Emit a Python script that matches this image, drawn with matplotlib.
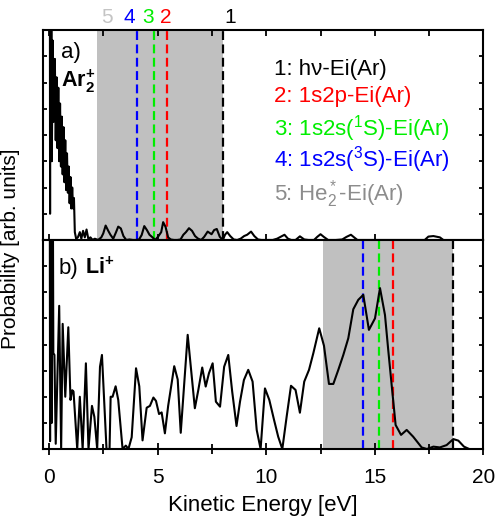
import numpy as np
import matplotlib
matplotlib.use("Agg")
import matplotlib.pyplot as plt
from matplotlib.ticker import MultipleLocator, NullFormatter
import matplotlib.transforms as mtransforms

plt.rcParams['font.family'] = ['Liberation Sans', 'DejaVu Sans']
plt.rcParams['mathtext.fontset'] = 'custom'
plt.rcParams['mathtext.rm'] = 'Liberation Sans'
plt.rcParams['mathtext.it'] = 'Liberation Sans:italic'
plt.rcParams['mathtext.bf'] = 'Liberation Sans:bold'

# Ar2+ kinetic energy spectrum (panel a)
ar_e = [0.00, 0.04, 0.08, 0.12, 0.16, 0.20, 0.26, 0.30, 0.34, 0.38, 0.42, 0.46,
        0.50, 0.54, 0.58, 0.62, 0.66, 0.70, 0.74, 0.78, 0.82, 0.86, 0.90, 0.94,
        0.98, 1.02, 1.06, 1.10, 1.14, 1.18, 1.24, 1.32, 1.41, 1.48, 1.56, 1.64,
        1.72, 1.80, 1.90, 2.00, 2.10, 2.25, 2.40, 2.49, 2.60, 2.72, 2.82, 2.95,
        3.08, 3.18, 3.30, 3.42, 3.55, 3.70, 3.85, 4.00, 4.14, 4.26, 4.38, 4.50,
        4.62, 4.76, 4.88, 5.02, 5.16, 5.25, 5.36, 5.48, 5.60, 5.75, 5.90, 6.05,
        6.18, 6.30, 6.44, 6.58, 6.72, 6.86, 7.00, 7.14, 7.30, 7.48, 7.60, 7.72,
        7.86, 8.00, 8.10, 8.20, 8.34, 8.50, 8.66, 8.82, 8.98, 9.12, 9.30, 9.45,
        9.62, 9.78, 10.0, 10.3, 10.5, 10.66, 10.84, 11.0, 11.15, 11.35, 11.55,
        11.75, 11.95, 12.2, 12.35, 12.5, 12.65, 12.85, 13.2, 13.5, 13.7, 13.9,
        14.05, 14.2, 14.6, 15.0, 15.5, 16.0, 16.5, 17.0, 17.3, 17.47, 17.7,
        18.0, 18.16]
ar_p = [40, 1.0, 40, 3.0, 7.6, 4.5, 6.9, 3.8, 6.2, 3.5, 5.8, 3.0,
        5.2, 2.8, 4.7, 2.5, 4.3, 2.2, 3.8, 1.9, 3.3, 1.8, 2.8, 1.4,
        2.4, 1.2, 2.0, 1.2, 1.6, 0.3, 0.05, 0.1, 0.3, 0.05, 0.35, 0.1,
        0.4, 0.05, 0.1, 0.0, 0.05, 0.0, 0.1, 0.25, 0.55, 0.35, 0.2, 0.05,
        0.3, 0.51, 0.44, 0.15, 0.0, 0.02, 0.0, 0.0, 0.02, 0.19, 0.53, 0.38,
        0.2, 0.1, 0.0, 0.13, 0.3, 0.68, 0.5, 0.1, 0.02, 0.0, 0.0, 0.02,
        0.2, 0.3, 0.45, 0.35, 0.15, 0.05, 0.0, 0.12, 0.32, 0.22, 0.38, 0.42,
        0.12, 0.0, 0.2, 0.3, 0.15, 0.02, 0.0, 0.05, 0.15, 0.2, 0.32, 0.15,
        0.02, 0.0, 0.0, 0.0, 0.05, 0.12, 0.2, 0.05, 0.0, 0.0, 0.14,
        0.02, 0.0, 0.0, 0.12, 0.22, 0.12, 0.0, 0.0, 0.02, 0.12, 0.2,
        0.1, 0.0, 0.0, 0.0, 0.0, 0.0, 0.0, 0.0, 0.0, 0.13, 0.15,
        0.1, 0.0]

# Li+ kinetic energy spectrum (panel b)
li_e = [0.00, 0.04, 0.08, 0.12, 0.16, 0.19, 0.24, 0.30, 0.46, 0.55, 0.62, 0.74,
        0.88, 0.98, 1.06, 1.12, 1.29, 1.41, 1.54, 1.69, 1.81, 1.97, 2.08, 2.21,
        2.34, 2.43, 2.53, 2.64, 2.78, 2.83, 2.92, 3.06, 3.18, 3.38, 3.53, 3.65,
        3.80, 4.00, 4.15, 4.30, 4.49, 4.64, 4.80, 4.92, 5.06, 5.18, 5.33, 5.48,
        5.61, 5.76, 5.92, 6.06, 6.22, 6.38, 6.71, 6.87, 7.05, 7.21, 7.36, 7.53,
        7.68, 7.87, 8.06, 8.25, 8.43, 8.63, 8.79, 8.97, 9.17, 9.37, 9.56, 9.74,
        9.94, 10.14, 10.36, 10.55, 10.74, 10.94, 11.14, 11.35, 11.55, 11.75,
        11.97, 12.17, 12.44, 12.66, 12.89, 13.09, 13.32, 13.55, 13.78, 14.01,
        14.24, 14.47, 14.73, 15.01, 15.24, 15.47, 15.62, 15.80, 15.96, 16.21,
        16.47, 16.77, 17.16, 17.40, 17.70, 18.00, 18.31, 18.62, 18.85, 19.11,
        19.35]
li_p = [30, 0.3, 30, 1.0, 12, 3.67, 3.6, 0.2, 5.48, 0.0, 4.79, 2.0,
        4.66, 1.88, 2.25, 2.2, 0.0, 2.0, 0.0, 3.28, 0.0, 1.65, 1.23, 0.0,
        3.15, 3.6, 1.88, 0.0, 0.0, 2.0, 2.0, 2.4, 1.88, 0.0, 0.13, 0.0,
        0.45, 3.09, 2.4, 0.33, 1.58, 1.65, 1.97, 1.84, 1.34, 1.4, 0.6, 1.65,
        2.35, 3.17, 2.66, 0.62, 2.5, 4.37, 1.56, 2.26, 3.12, 2.39, 2.9, 3.28,
        1.81, 1.62, 3.15, 3.6, 2.2, 0.88, 1.81, 2.64, 3.03, 2.58, 0.73, 0.0,
        2.32, 1.88, 1.11, 0.47, 0.0, 1.24, 2.42, 2.26, 1.39, 2.58,
        3.03, 3.67, 4.62, 3.95, 2.49, 2.49, 3.03, 3.6, 4.24, 5.35,
        5.71, 5.9, 4.56, 5.0, 6.16, 5.13, 3.79, 2.26, 0.92, 0.54,
        0.73, 0.47, 0.06, 0.0, 0.09, 0.06, 0.15, 0.38, 0.32, 0.09,
        0.0]

# marker energies: 1 hv-Ei, 2 1s2p, 3 1s2s(1S), 4 1s2s(3S); shaded band from 5 to 1
ar_marks = [8.0, 5.41, 4.83, 4.03]
ar_band = [2.18, 8.0]
li_marks = [18.59, 15.82, 15.21, 14.44]
li_band = [12.63, 18.59]
mark_colors = ['black', '#ff0000', '#00ee00', '#0000ff']

top_labels = ['5', '4', '3', '2', '1']
top_label_x = [2.66, 3.68, 4.55, 5.38, 8.33]
top_label_colors = ['#c4c4c4', '#0000ff', '#00ee00', '#ff0000', 'black']

legend_lines = ['1: h\u03bd-Ei(Ar)', '2: 1s2p-Ei(Ar)', '3: 1s2s($^1$S)-Ei(Ar)',
                '4: 1s2s($^3$S)-Ei(Ar)', '5: He$_2^*$-Ei(Ar)']
legend_colors = ['black', '#ff0000', '#00ee00', '#0000ff', '#8c8c8c']
legend_y = [0.786, 0.659, 0.50, 0.349, 0.19]

W, H = 498, 519
fig = plt.figure(figsize=(W / 100, H / 100), dpi=100)
left, right = 42.7 / W, 483.3 / W
ax1 = fig.add_axes([left, 1 - 240 / H, right - left, 210 / H])
ax2 = fig.add_axes([left, 1 - 449 / H, right - left, 209 / H])

for ax, e, p, marks, band in [(ax1, ar_e, ar_p, ar_marks, ar_band),
                              (ax2, li_e, li_p, li_marks, li_band)]:
    ax.axvspan(band[0], band[1], color='#c0c0c0', lw=0, zorder=0)
    for xm, c in zip(marks, mark_colors):
        ax.axvline(xm, color=c, lw=1.6, ls=(0, (4.0, 2.0)), zorder=1)
    ax.plot(e, p, color='black', lw=1.5, zorder=3)
    ax.set_xlim(-0.3, 20)
    ax.set_ylim(0, 8)
    for s in ax.spines.values():
        s.set_linewidth(1.5)
        s.set_zorder(4)
    ax.yaxis.set_major_locator(MultipleLocator(1))
    ax.yaxis.set_major_formatter(NullFormatter())
    ax.tick_params(axis='y', which='major', direction='in', left=True, right=True,
                   length=3, width=1.3)
    ax.xaxis.set_major_locator(MultipleLocator(5))
    ax.xaxis.set_minor_locator(MultipleLocator(2.5))

# top panel ticks
ax1.xaxis.set_major_formatter(NullFormatter())
ax1.tick_params(axis='x', which='major', direction='in', top=True, bottom=True,
                length=4, width=1.3)
ax1.tick_params(axis='x', which='minor', direction='in', top=True, bottom=False,
                length=4, width=1.3)

# bottom panel ticks
ax2.tick_params(axis='x', which='major', direction='inout', top=False, bottom=True,
                length=8, width=1.3, labelsize=15, pad=10)
ax2.tick_params(axis='x', which='minor', direction='inout', top=False, bottom=True,
                length=7, width=1.3)
ax2.set_xticks([0, 5, 10, 15, 20])
ax2.set_xticklabels(['0', '5', '10', '15', '20'])

# numbers above the top panel
tr = mtransforms.blended_transform_factory(ax1.transData, ax1.transAxes)
for lab, xl, c in zip(top_labels, top_label_x, top_label_colors):
    ax1.text(xl, 1.035, lab, color=c, fontsize=15, ha='center', va='baseline',
             transform=tr)

# legend-like text
for txt, c, yy in zip(legend_lines, legend_colors, legend_y):
    ax1.text(0.5257, yy, txt, color=c, fontsize=16, ha='left', va='baseline',
             transform=ax1.transAxes)

ax1.text(0.0415, 0.867, 'a)', fontsize=16, ha='left', va='baseline',
         transform=ax1.transAxes)
ax1.text(0.0415, 0.729, r'Ar$_\mathbf{2}^\mathbf{+}$', fontsize=15.5, fontweight='bold',
         ha='left', va='baseline', transform=ax1.transAxes)
ax2.text(0.035, 0.836, 'b)', fontsize=16, ha='left', va='baseline',
         transform=ax2.transAxes)
ax2.text(0.096, 0.836, r'Li$^\mathbf{+}$', fontsize=15.5, fontweight='bold',
         ha='left', va='baseline', transform=ax2.transAxes)

fig.text(11 / W, 1 - 249 / H, 'Probability [arb. units]', rotation=90, fontsize=15,
         ha='center', va='center')
fig.text(262.5 / W, 1 - 505 / H, 'Kinetic Energy [eV]', fontsize=16,
         ha='center', va='center')

fig.savefig('out.png', dpi=100)
